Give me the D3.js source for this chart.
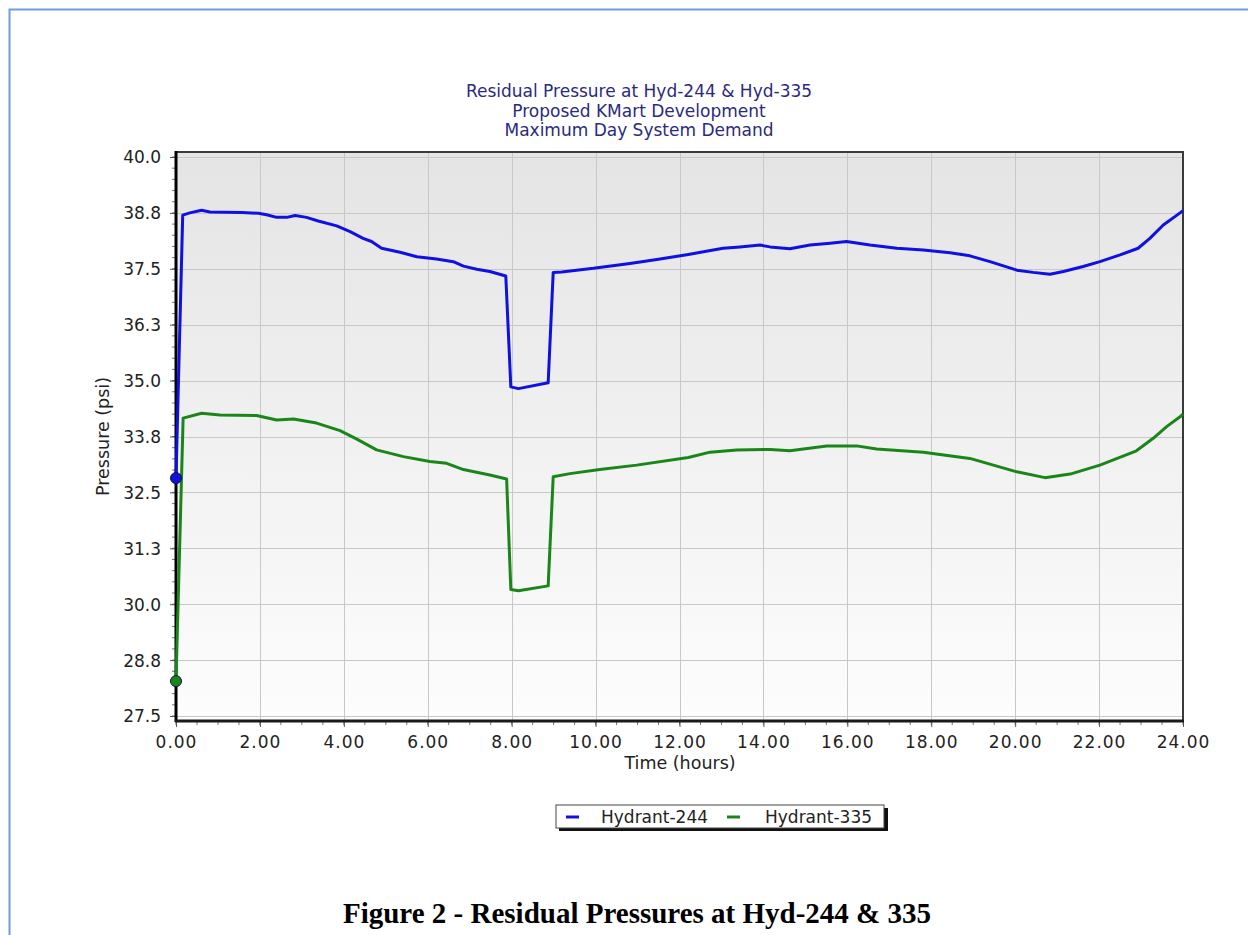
<!DOCTYPE html>
<html>
<head>
<meta charset="utf-8">
<script src="https://cdn.jsdelivr.net/npm/d3@7"></script>
<style>
  body { margin: 0; background: #fff; }
  svg { display: block; }
  text { font-family: "DejaVu Sans", Verdana, sans-serif; }
</style>
</head>
<body>
<div id="chart"></div>
<script>
// Hydrant-244 residual pressure (psi) over time (hours)
const hours244 = [0, 0.16, 0.33, 0.61, 0.81, 1.57, 1.96, 2.16, 2.40, 2.64, 2.84, 3.11, 3.39, 3.83, 4.15, 4.46, 4.66, 4.90,
    5.34, 5.74, 6.21, 6.61, 6.85, 7.17, 7.48, 7.86, 7.98, 8.16, 8.87, 8.99, 9.19, 9.95, 10.82, 11.46, 12.21, 12.57,
    13.04, 13.44, 13.92, 14.16, 14.63, 15.11, 15.59, 15.98, 16.54, 17.18, 17.81, 18.45, 18.92, 19.40, 20.04, 20.43,
    20.83, 21.15, 21.62, 22.02, 22.50, 22.93, 23.21, 23.53, 23.93, 24];
const psi244 = [32.82, 38.70, 38.75, 38.81, 38.77, 38.76, 38.74, 38.71, 38.65, 38.65, 38.69, 38.65, 38.57, 38.46, 38.33, 38.18, 38.11, 37.96,
    37.87, 37.77, 37.72, 37.66, 37.56, 37.49, 37.44, 37.34, 34.86, 34.82, 34.95, 37.42, 37.43, 37.51, 37.62, 37.71, 37.82, 37.88,
    37.96, 37.99, 38.03, 37.99, 37.95, 38.03, 38.07, 38.11, 38.03, 37.96, 37.92, 37.86, 37.79, 37.66, 37.47, 37.42,
    37.38, 37.44, 37.55, 37.66, 37.81, 37.96, 38.18, 38.48, 38.75, 38.80];

// Hydrant-335 residual pressure (psi) over time (hours)
const hours335 = [0, 0.17, 0.61, 1.05, 1.92, 2.40, 2.80, 3.35, 3.91, 4.31, 4.78, 5.42, 6.05, 6.45, 6.85, 7.48, 7.88,
    7.98, 8.16, 8.87, 8.99, 9.39, 10.10, 10.98, 12.21, 12.73, 13.36, 14.16, 14.63, 15.51, 16.22, 16.70, 17.81,
    18.92, 20.04, 20.71, 21.31, 22.02, 22.89, 23.29, 23.61, 23.93, 24];
const psi335 = [28.28, 34.16, 34.27, 34.23, 34.22, 34.12, 34.14, 34.05, 33.88, 33.69, 33.45, 33.30, 33.19, 33.15, 33.01, 32.89, 32.80,
    30.33, 30.30, 30.41, 32.85, 32.92, 33.01, 33.11, 33.28, 33.40, 33.45, 33.46, 33.43, 33.54, 33.54, 33.47, 33.40,
    33.26, 32.96, 32.83, 32.91, 33.11, 33.43, 33.71, 33.97, 34.19, 34.25];

const yTicks = [27.5, 28.75, 30, 31.25, 32.5, 33.75, 35, 36.25, 37.5, 38.75, 40];
const xTicks = [0, 2, 4, 6, 8, 10, 12, 14, 16, 18, 20, 22, 24];
const titleLines = ["Residual Pressure at Hyd-244 & Hyd-335", "Proposed KMart Development", "Maximum Day System Demand"];
const seriesNames = ["Hydrant-244", "Hydrant-335"];
const seriesColors = ["#1010e0", "#1a861a"];

const width = 1248, height = 935;
const plot = {left: 176, right: 1183, top: 152, bottom: 721};

const svg = d3.select("#chart").append("svg")
    .attr("width", width)
    .attr("height", height);

// page border (left + top)
svg.append("path")
    .attr("d", `M9.5,${height} V9.5 H${width}`)
    .attr("fill", "none")
    .attr("stroke", "#6f9be0")
    .attr("stroke-width", 2);

const defs = svg.append("defs");
const grad = defs.append("linearGradient")
    .attr("id", "bg").attr("x1", 0).attr("y1", 0).attr("x2", 0).attr("y2", 1);
grad.append("stop").attr("offset", "0%").attr("stop-color", "#e4e4e4");
grad.append("stop").attr("offset", "100%").attr("stop-color", "#fdfdfd");

const x = d3.scaleLinear().domain([0, 24]).range([plot.left, plot.right]);
const y = d3.scaleLinear().domain([27.5, 40]).range([716, 157]);

svg.append("rect")
    .attr("x", plot.left).attr("y", plot.top)
    .attr("width", plot.right - plot.left).attr("height", plot.bottom - plot.top)
    .attr("fill", "url(#bg)");

// grid
svg.append("g").selectAll("line").data(yTicks).join("line")
    .attr("x1", plot.left).attr("x2", plot.right)
    .attr("y1", d => Math.round(y(d)) + 0.5).attr("y2", d => Math.round(y(d)) + 0.5)
    .attr("stroke", "#c8c8c8").attr("stroke-width", 1);
svg.append("g").selectAll("line").data(xTicks).join("line")
    .attr("y1", plot.top).attr("y2", plot.bottom)
    .attr("x1", d => Math.round(x(d)) + 0.5).attr("x2", d => Math.round(x(d)) + 0.5)
    .attr("stroke", "#c8c8c8").attr("stroke-width", 1);

// top / right frame
svg.append("path")
    .attr("d", `M${plot.left},${plot.top} H${plot.right} V${plot.bottom}`)
    .attr("fill", "none").attr("stroke", "#3a3a3a").attr("stroke-width", 2);

// minor ticks
const yMinor = d3.range(27.5, 40.001, 0.25);
const xMinor = d3.range(0, 24.001, 0.5);
svg.append("g").selectAll("line").data(yMinor).join("line")
    .attr("x1", plot.left - 4).attr("x2", plot.left)
    .attr("y1", d => y(d)).attr("y2", d => y(d))
    .attr("stroke", "#777").attr("stroke-width", 1);
svg.append("g").selectAll("line").data(xMinor).join("line")
    .attr("y1", plot.bottom).attr("y2", plot.bottom + 4)
    .attr("x1", d => x(d)).attr("x2", d => x(d))
    .attr("stroke", "#777").attr("stroke-width", 1);

// axes
const yAxis = d3.axisLeft(y).tickValues(yTicks).tickFormat(d3.format(".1f")).tickSize(6).tickPadding(9);
const xAxis = d3.axisBottom(x).tickValues(xTicks).tickFormat(d3.format(".2f")).tickSize(6).tickPadding(9);

const gy = svg.append("g").attr("transform", `translate(${plot.left},0)`).call(yAxis);
const gx = svg.append("g").attr("transform", `translate(0,${plot.bottom})`).call(xAxis);
[gy, gx].forEach(g => {
    g.select(".domain").remove();
    g.selectAll(".tick line").attr("stroke", "#555");
    g.selectAll(".tick text")
        .attr("fill", "#222")
        .style("font-family", '"DejaVu Sans", Verdana, sans-serif')
        .style("font-size", "17px");
});
gy.selectAll(".tick text").attr("dy", "0.35em");
gx.selectAll(".tick text").style("letter-spacing", "1px");

svg.append("line")
    .attr("x1", plot.left).attr("x2", plot.left)
    .attr("y1", plot.top - 1).attr("y2", plot.bottom + 1)
    .attr("stroke", "#000").attr("stroke-width", 3);
svg.append("line")
    .attr("x1", plot.left - 1).attr("x2", plot.right + 1)
    .attr("y1", plot.bottom).attr("y2", plot.bottom)
    .attr("stroke", "#1a1a1a").attr("stroke-width", 3);

// axis titles
svg.append("text")
    .attr("transform", `translate(109,${(plot.top + plot.bottom) / 2}) rotate(-90)`)
    .attr("text-anchor", "middle")
    .attr("fill", "#222")
    .style("font-size", "17.5px")
    .text("Pressure (psi)");
svg.append("text")
    .attr("x", 680)
    .attr("y", 769)
    .attr("text-anchor", "middle")
    .attr("fill", "#222")
    .style("font-size", "17.5px")
    .text("Time (hours)");

// title
svg.append("g").selectAll("text").data(titleLines).join("text")
    .attr("x", 639)
    .attr("y", (d, i) => 97 + i * 19.5)
    .attr("text-anchor", "middle")
    .attr("fill", "#2a2a80")
    .style("font-size", "17px")
    .text(d => d);

// lines
const line = d3.line().x(d => x(d[0])).y(d => y(d[1]));
const series = [
    d3.zip(hours244, psi244),
    d3.zip(hours335, psi335)
];
svg.append("g").selectAll("path").data(series).join("path")
    .attr("d", line)
    .attr("fill", "none")
    .attr("stroke", (d, i) => seriesColors[i])
    .attr("stroke-width", 3)
    .attr("stroke-linejoin", "round");

// start markers
svg.append("g").selectAll("circle").data(series).join("circle")
    .attr("cx", d => x(d[0][0]))
    .attr("cy", d => y(d[0][1]))
    .attr("r", 5.5)
    .attr("fill", (d, i) => seriesColors[i])
    .attr("stroke", "#113")
    .attr("stroke-width", 1);

// legend
const lg = svg.append("g");
lg.append("rect")
    .attr("x", 559).attr("y", 808).attr("width", 329).attr("height", 23)
    .attr("fill", "#111");
lg.append("rect")
    .attr("x", 556).attr("y", 805).attr("width", 328).attr("height", 23)
    .attr("fill", "#fff").attr("stroke", "#444").attr("stroke-width", 1);
const legendX = [566, 727];
const legendTextX = [601, 765];
seriesNames.forEach((name, i) => {
    lg.append("line")
        .attr("x1", legendX[i]).attr("x2", legendX[i] + 13)
        .attr("y1", 817).attr("y2", 817)
        .attr("stroke", seriesColors[i]).attr("stroke-width", 3);
    lg.append("text")
        .attr("x", legendTextX[i]).attr("y", 823)
        .attr("fill", "#222")
        .style("font-size", "17px")
        .text(name);
});

// caption
svg.append("text")
    .attr("x", 637).attr("y", 923)
    .attr("text-anchor", "middle")
    .attr("fill", "#000")
    .style("font-family", '"Liberation Serif", "Times New Roman", serif')
    .style("font-weight", "bold")
    .style("font-size", "29px")
    .text("Figure 2 - Residual Pressures at Hyd-244 & 335");
</script>
</body>
</html>
